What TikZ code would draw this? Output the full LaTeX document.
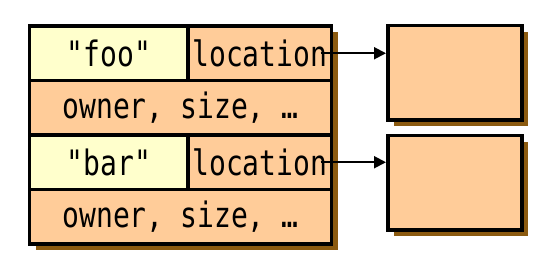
\documentclass[tikz,border=0pt]{standalone}
\usepackage{fontspec}
\newfontfamily\cellfont[FakeStretch=0.8]{DejaVu Sans Mono}
\usepackage{tikz}
\usetikzlibrary{positioning,calc,arrows.meta,shadows,backgrounds}
\definecolor{keyfill}{HTML}{FFFFCC}
\definecolor{peach}{HTML}{FFCC99}
\definecolor{shadowbrown}{RGB}{139,90,16}

\begin{document}
\begin{tikzpicture}[x=1pt, y=1pt, >={Triangle[length=12pt, width=12pt]}, cell/.style = {draw, line width=3.5pt, fill=peach, outer sep=0pt, inner sep=0pt, minimum height=54.5pt, font=\cellfont\fontsize{35}{38}\selectfont}, key/.style = {cell, fill=keyfill}, mem/.style = {draw, line width=3.5pt, fill=peach, minimum width=134pt, minimum height=94.5pt, drop shadow={shadow xshift=6pt, shadow yshift=-6pt, fill=shadowbrown, opacity=1}}, ptr/.style = {->, line width=2pt}]
\useasboundingbox (0,0) rectangle (554,275);

\node[key, minimum width=158.5pt, anchor=north west] (foo) at (29.5,249) {"foo"};
\node[cell, minimum width=143.5pt, right=0pt of foo] (loc1) {location};
\node[cell, minimum width=302pt, below right=0pt of foo.south west] (own1) {owner, size, …};

\node[key, minimum width=158.5pt, below right=0pt of own1.south west] (bar) {"bar"};
\node[cell, minimum width=143.5pt, right=0pt of bar] (loc2) {location};
\node[cell, minimum width=302pt, below right=0pt of bar.south west] (own2) {owner, size, …};

\node[mem, anchor=north west] (mem1) at (386,251) {};
\node[mem, anchor=north west] (mem2) at (386,141) {};

\begin{scope}[on background layer]
\fill[shadowbrown] ($(foo.north west)+(6,-6)$) rectangle ($(own2.south east)+(6,-6)$);
\end{scope}

\coordinate (p1) at ([xshift=-11pt]loc1.east);
\coordinate (p2) at ([xshift=-11pt]loc2.east);
\draw[ptr] (p1) -- (p1 -| mem1.west);
\draw[ptr] (p2) -- (p2 -| mem2.west);
\end{tikzpicture}
\end{document}
